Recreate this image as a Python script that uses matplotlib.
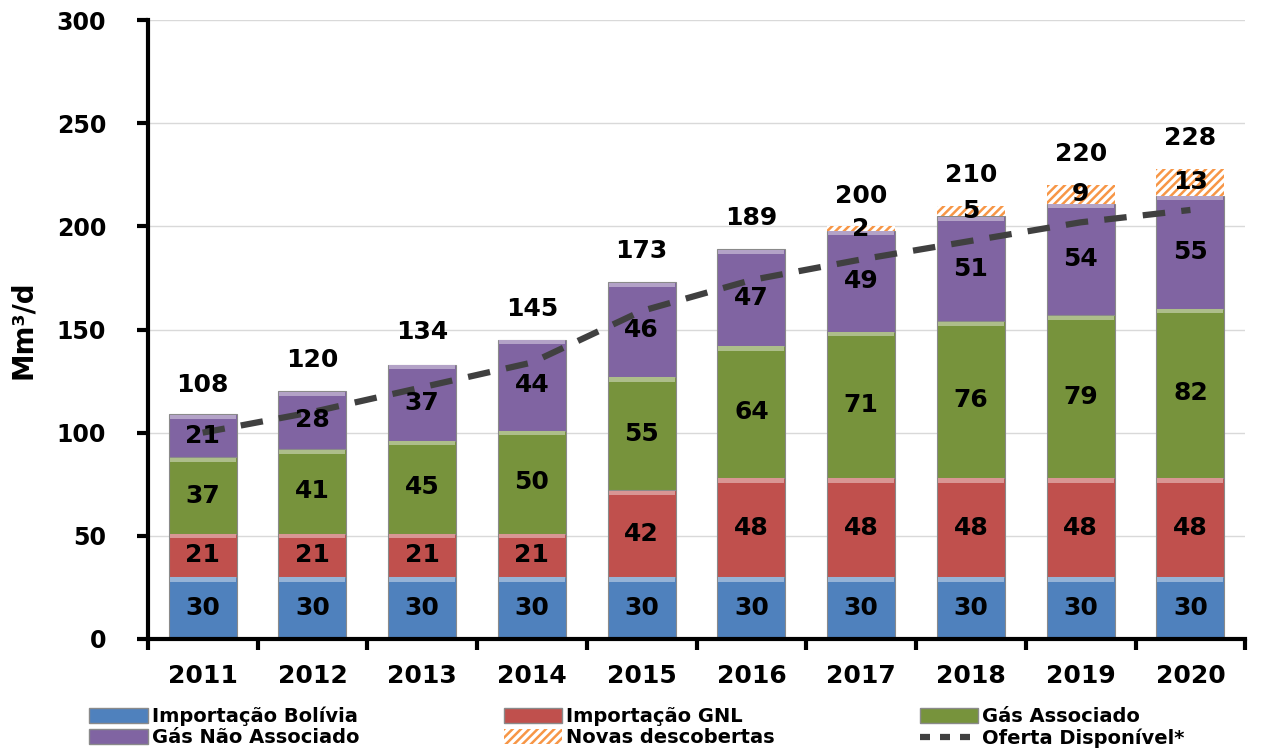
import matplotlib
matplotlib.use("Agg")
import matplotlib.pyplot as plt
import numpy as np
from matplotlib.lines import Line2D
from matplotlib.patches import Patch
from matplotlib.colors import to_rgb

plt.rcParams['font.family'] = ['DejaVu Sans']
plt.rcParams['hatch.color'] = '#F79646'
plt.rcParams['hatch.linewidth'] = 1.8

years = ['2011', '2012', '2013', '2014', '2015', '2016', '2017', '2018', '2019', '2020']
bolivia = [30, 30, 30, 30, 30, 30, 30, 30, 30, 30]
gnl = [21, 21, 21, 21, 42, 48, 48, 48, 48, 48]
associado = [37, 41, 45, 50, 55, 64, 71, 76, 79, 82]
nao_associado = [21, 28, 37, 44, 46, 47, 49, 51, 54, 55]
novas = [0, 0, 0, 0, 0, 0, 2, 5, 9, 13]
totais = [108, 120, 134, 145, 173, 189, 200, 210, 220, 228]
oferta = [100, 110, 122, 134, 159, 174, 184, 193, 202, 208]

series = [
    ('Importação Bolívia', bolivia, '#4F81BD'),
    ('Importação GNL', gnl, '#C0504D'),
    ('Gás Associado', associado, '#77933C'),
    ('Gás Não Associado', nao_associado, '#8064A2'),
]


def lighter(c, f=0.4):
    r, g, b = to_rgb(c)
    return (r + (1 - r) * f, g + (1 - g) * f, b + (1 - b) * f)


fig = plt.figure(figsize=(12.63, 7.49), dpi=100)
ax = fig.add_axes([0.117, 0.147, 0.869, 0.826])

x = np.arange(len(years))
w = 0.62
bottom = np.zeros(len(years))
handles = []
for name, vals, col in series:
    vals = np.array(vals, dtype=float)
    ax.bar(x, vals, w, bottom=bottom, color=col, edgecolor='#8a8a8a', linewidth=0.8, zorder=2)
    strip = np.minimum(vals, 2.0)
    ax.bar(x, strip, w * 0.97, bottom=bottom + vals - strip - 0.2, color=lighter(col), linewidth=0, zorder=2.5)
    for xi, b, v in zip(x, bottom, vals):
        if v > 0:
            ax.text(xi, b + v / 2, f'{int(v)}', ha='center', va='center', fontsize=18,
                    fontweight='bold', color='black', zorder=5)
    bottom += vals
    handles.append(Patch(facecolor=col, edgecolor='#8a8a8a', label=name))

nv = np.array(novas, dtype=float)
ax.bar(x, nv, w, bottom=bottom, color='white', edgecolor='#F79646', hatch='////', linewidth=0, zorder=2)
for xi, b, v in zip(x, bottom, nv):
    if v > 0:
        ax.text(xi, b + v / 2, f'{int(v)}', ha='center', va='center', fontsize=18,
                fontweight='bold', color='black', zorder=5)
handles.append(Patch(facecolor='white', edgecolor='#F79646', hatch='////', linewidth=0, label='Novas descobertas'))

for xi, t in zip(x, totais):
    ax.text(xi, t + 15, f'{t}', ha='center', va='center', fontsize=18, fontweight='bold', zorder=5)

ax.plot(x, oferta, color='#404040', linewidth=4.5, linestyle=(0, (3.6, 2.6)), zorder=4)
handles.append(Line2D([0], [0], color='#404040', linewidth=4.5, linestyle=(0, (1.6, 1.6)), label='Oferta Disponível*'))

ax.set_xlim(-0.5, len(years) - 0.5)
ax.set_ylim(0, 300)
ax.set_yticks(np.arange(0, 301, 50))
ax.yaxis.grid(True, color='#d9d9d9', linewidth=1, zorder=0)
ax.set_axisbelow(True)
ax.set_xticks(x)
ax.set_xticklabels(years, fontsize=18, fontweight='bold')
ax.set_xticks(np.arange(-0.5, len(years), 1), minor=True)
ax.tick_params(axis='x', which='major', length=0, pad=18)
ax.tick_params(axis='x', which='minor', length=8, width=3)
ax.tick_params(axis='y', length=8, width=3, labelsize=17, pad=22)
for lab in ax.get_yticklabels():
    lab.set_fontweight('bold')
for s in ['top', 'right']:
    ax.spines[s].set_visible(False)
for s in ['left', 'bottom']:
    ax.spines[s].set_linewidth(3)
ax.set_ylabel('Mm³/d', fontsize=20, fontweight='bold', labelpad=14)

order = [0, 3, 1, 4, 2, 5]
leg = fig.legend([handles[i] for i in order], [handles[i].get_label() for i in order],
                 ncol=3, loc='lower left', bbox_to_anchor=(0.057, -0.022), frameon=False,
                 handlelength=3.0, handleheight=0.8, handletextpad=0.2,
                 columnspacing=7.45, labelspacing=0.12, prop={'weight': 'bold', 'size': 14})

fig.savefig('out.png', dpi=100)
